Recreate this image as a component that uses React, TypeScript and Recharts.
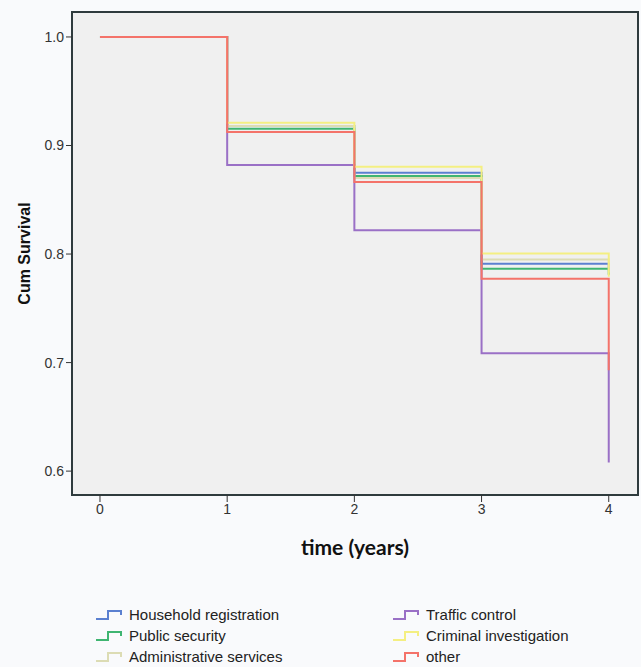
import { LineChart, Line, XAxis, YAxis, ReferenceArea, Label } from 'recharts';

// time points (years) and cumulative survival for each department
const times = [0, 1, 2, 3, 4];
const household = [1, 0.918, 0.875, 0.791, 0.785];
const publicSecurity = [1, 0.9155, 0.872, 0.7865, 0.781];
const adminServices = [1, 0.918, 0.87, 0.795, 0.783];
const trafficControl = [1, 0.882, 0.822, 0.7085, 0.608];
const criminalInv = [1, 0.921, 0.8805, 0.8006, 0.779];
const other = [1, 0.9124, 0.8664, 0.7773, 0.693];

const xTicks = [0, 1, 2, 3, 4];
const yTicks = [0.6, 0.7, 0.8, 0.9, 1.0];

const series = [
  { key: 'hh', name: 'Household registration', color: '#5b80d0', values: household },
  { key: 'ps', name: 'Public security', color: '#3fb571', values: publicSecurity },
  { key: 'ad', name: 'Administrative services', color: '#dcdcb4', values: adminServices },
  { key: 'tc', name: 'Traffic control', color: '#9a70c6', values: trafficControl },
  { key: 'ci', name: 'Criminal investigation', color: '#f4ef82', values: criminalInv },
  { key: 'ot', name: 'other', color: '#f4736a', values: other },
];

const data = times.map((t, i) => {
  const row: Record<string, number> = { t };
  series.forEach((s) => {
    row[s.key] = s.values[i];
  });
  return row;
});

const legendOrder = [
  [series[0], series[3]],
  [series[1], series[4]],
  [series[2], series[5]],
];

const tickFont = { fontFamily: 'Liberation Sans, Arial', fontSize: 14, fill: '#333' };

function StepIcon({ color }: { color: string }) {
  return (
    <svg width={28} height={12} style={{ display: 'block' }}>
      <polyline points="1,10 13,10 13,2 26,2 26,6" fill="none" stroke={color} strokeWidth={2} />
    </svg>
  );
}

export default function App() {
  return (
    <div
      style={{
        position: 'absolute',
        left: 0,
        top: 0,
        width: 641,
        height: 667,
        background: '#f9fafc',
      }}
    >
      <LineChart width={641} height={560} data={data} margin={{ top: 12, right: 3, bottom: 0, left: 30 }}>
        <ReferenceArea x1={-0.22} x2={4.23} y1={0.578} y2={1.023} fill="#f0f0f0" fillOpacity={1} stroke="none" />
        <XAxis
          dataKey="t"
          type="number"
          domain={[-0.22, 4.23]}
          ticks={xTicks}
          allowDataOverflow
          tick={tickFont}
          tickLine={{ stroke: '#333' }}
          tickSize={7}
          axisLine={false}
          height={65}
        >
          <Label
            value="time (years)"
            position="insideBottom"
            offset={5}
            style={{ fontFamily: 'Lato, Open Sans', fontWeight: 700, fontSize: 21, fill: '#111' }}
          />
        </XAxis>
        <YAxis
          type="number"
          domain={[0.578, 1.023]}
          ticks={yTicks}
          allowDataOverflow
          tickFormatter={(v: number) => v.toFixed(1)}
          tick={tickFont}
          tickLine={{ stroke: '#333' }}
          tickSize={6}
          axisLine={false}
          width={42}
        >
          <Label
            value="Cum Survival"
            angle={-90}
            position="insideLeft"
            offset={-6}
            style={{ fontFamily: 'Liberation Sans, Arial', fontWeight: 700, fontSize: 16, fill: '#111', textAnchor: 'middle' }}
          />
        </YAxis>
        {series.map((s) => (
          <Line
            key={s.key}
            dataKey={s.key}
            name={s.name}
            type="stepAfter"
            stroke={s.color}
            strokeWidth={2}
            dot={false}
            isAnimationActive={false}
          />
        ))}
        <ReferenceArea
          x1={-0.22}
          x2={4.23}
          y1={0.578}
          y2={1.023}
          fill="none"
          stroke="#2f3b3d"
          strokeWidth={2}
        />
      </LineChart>
      <div style={{ position: 'absolute', left: 95, top: 604, fontFamily: 'Liberation Sans, Arial', fontSize: 15, color: '#222' }}>
        {legendOrder.map((row, r) => (
          <div key={r} style={{ display: 'flex', height: 21, alignItems: 'center' }}>
            {row.map((s, c) => (
              <div key={s.key} style={{ display: 'flex', alignItems: 'center', width: c === 0 ? 297 : 250 }}>
                <StepIcon color={s.color} />
                <span style={{ marginLeft: 6 }}>{s.name}</span>
              </div>
            ))}
          </div>
        ))}
      </div>
    </div>
  );
}
